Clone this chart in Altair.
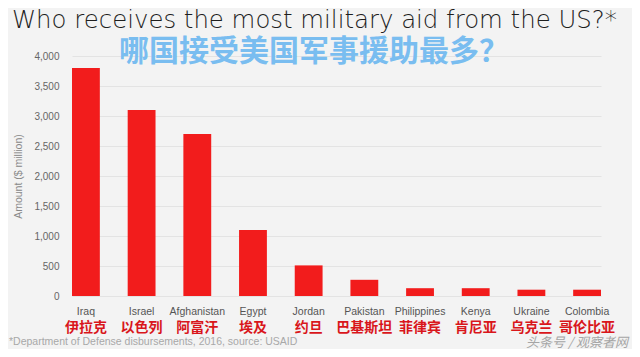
import altair as alt
import pandas as pd

countries = ["Iraq", "Israel", "Afghanistan", "Egypt", "Jordan", "Pakistan",
             "Philippines", "Kenya", "Ukraine", "Colombia"]
countries_zh = ["伊拉克", "以色列", "阿富汗", "埃及", "约旦", "巴基斯坦",
                "菲律宾", "肯尼亚", "乌克兰", "哥伦比亚"]
amounts = [3800, 3100, 2700, 1100, 510, 270, 130, 130, 105, 105]

title_en = "Who receives the most military aid from the US?*"
title_zh = "哪国接受美国军事援助最多？"
footnote = "*Department of Defense disbursements, 2016, source: USAID"
watermark = "头条号 / 观察者网"
y_ticks = [0, 500, 1000, 1500, 2000, 2500, 3000, 3500, 4000]

df = pd.DataFrame({"country": countries, "zh": countries_zh, "amount": amounts})

W, H = 529, 240

x = alt.X("country:N", sort=countries,
          scale=alt.Scale(paddingInner=0.5, paddingOuter=0.0),
          axis=alt.Axis(title=None, labelAngle=0, domain=False, ticks=False,
                        labelFont="Liberation Sans", labelFontSize=10.5, labelColor="#555555",
                        labelPadding=10))

bars = alt.Chart(df).mark_bar(color="#f21c1c").encode(
    x=x,
    y=alt.Y("amount:Q", scale=alt.Scale(domain=[0, 4000], nice=False),
            axis=alt.Axis(title="Amount ($ million)", values=y_ticks, format=",.0f",
                          domain=False, ticks=False, grid=True, gridColor="#e3e3e3",
                          labelFont="Liberation Sans", labelFontSize=10, labelColor="#666666",
                          labelPadding=13, titleFont="Liberation Sans", titleFontSize=10.5,
                          titleFontWeight="normal", titleColor="#888888",
                          titlePadding=10)),
)

zh_labels = alt.Chart(df).mark_text(
    font="Noto Sans CJK SC", fontSize=14, fontWeight="bold", color="#d9161b",
    baseline="middle"
).encode(x=alt.X("country:N", sort=countries), y=alt.value(H + 32), text="zh:N")

title = alt.Chart(pd.DataFrame({"t": [title_en]})).mark_text(
    font="DejaVu Sans", fontSize=24.4, fontWeight=200, color="#1e1e1e",
    align="left", baseline="alphabetic"
).encode(x=alt.value(-60), y=alt.value(-28.5), text="t:N")

subtitle = alt.Chart(pd.DataFrame({"t": [title_zh]})).mark_text(
    font="Noto Sans CJK SC", fontSize=30, fontWeight="bold", color="#79bdf0",
    align="left", baseline="middle"
).encode(x=alt.value(47), y=alt.value(-4), text="t:N")

foot = alt.Chart(pd.DataFrame({"t": [footnote]})).mark_text(
    font="Liberation Sans", fontSize=10.5, color="#a8a8a8", align="left", baseline="middle"
).encode(x=alt.value(-63), y=alt.value(H + 46), text="t:N")

wm = alt.Chart(pd.DataFrame({"t": [watermark]})).mark_text(
    font="Noto Sans CJK SC", fontSize=13, color="#a5a5a5", align="right",
    baseline="middle", fontStyle="italic"
).encode(x=alt.value(W + 27), y=alt.value(H + 47), text="t:N")

chart = alt.layer(bars, zh_labels, title, subtitle, foot, wm).properties(
    width=W, height=H,
    autosize=alt.AutoSizeParams(type="none"),
    padding={"left": 64, "top": 48, "right": 31, "bottom": 53},
    background="#f3f3f3",
).configure_view(stroke=None)

chart.save("out.html", embed_options={"renderer": "svg", "actions": False})
